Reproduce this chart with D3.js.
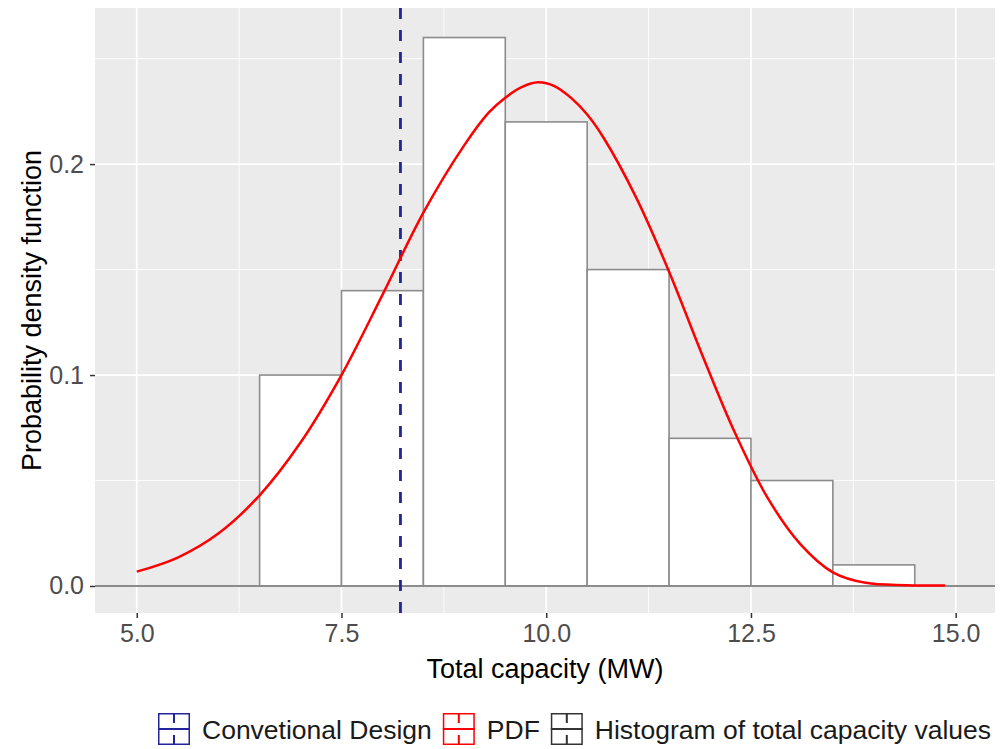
<!DOCTYPE html>
<html>
<head>
<meta charset="utf-8">
<script src="https://cdn.jsdelivr.net/npm/d3@7"></script>
<style>
  body { margin: 0; background: #fff; }
  text { font-family: 'Liberation Sans', Arial, sans-serif; }
</style>
</head>
<body>
<svg id="chart"></svg>
<script>
// histogram bins (left edge, right edge, density)
const binLo = [6.5, 7.5, 8.5, 9.5, 10.5, 11.5, 12.5, 13.5]
const binHi = [7.5, 8.5, 9.5, 10.5, 11.5, 12.5, 13.5, 14.5]
const binDensity = [0.10, 0.14, 0.26, 0.22, 0.15, 0.07, 0.05, 0.01]

// pdf curve
const pdfX = [5.0, 5.5, 6.0, 6.5, 7.0, 7.5, 8.0, 8.5, 9.0, 9.3, 9.5, 9.7, 9.9, 10.1, 10.3, 10.5, 10.7, 11.1, 11.5, 11.9, 12.3, 12.7, 13.1, 13.5, 13.9, 14.4, 14.87]
const pdfY = [0.0068, 0.0135, 0.025, 0.043, 0.068, 0.100, 0.138, 0.177, 0.209, 0.2245, 0.2315, 0.2365, 0.2388, 0.237, 0.2315, 0.2235, 0.2125, 0.184, 0.149, 0.110, 0.073, 0.042, 0.020, 0.0065, 0.0015, 0.0004, 0.0002]

const designValue = [8.22]

const xTicks = [5, 7.5, 10, 12.5, 15]
const xMinor = [6.25, 8.75, 11.25, 13.75]
const yTicks = [0, 0.1, 0.2]
const yMinor = [0.05, 0.15, 0.25]

const legendLabels = ['Convetional Design', 'PDF', 'Histogram of total capacity values']
const legendColors = ['#23239a', '#ff0000', '#333333']

const W = 1003, H = 749
const panel = { left: 95, right: 995, top: 8, bottom: 613 }

const svg = d3.select('#chart').attr('width', W).attr('height', H)

const x = d3.scaleLinear().domain([4.49, 15.48]).range([panel.left, panel.right])
const y = d3.scaleLinear().domain([-0.0128, 0.274]).range([panel.bottom, panel.top])

/// panel background + grid ////////////////
svg.append('rect')
  .attr('x', panel.left).attr('y', panel.top)
  .attr('width', panel.right - panel.left).attr('height', panel.bottom - panel.top)
  .attr('fill', '#ebebeb')

const grid = svg.append('g')
grid.selectAll('.xminor').data(xMinor).join('line')
  .attr('x1', d => x(d)).attr('x2', d => x(d))
  .attr('y1', panel.top).attr('y2', panel.bottom)
  .attr('stroke', '#fff').attr('stroke-width', 0.9)
grid.selectAll('.yminor').data(yMinor).join('line')
  .attr('y1', d => y(d)).attr('y2', d => y(d))
  .attr('x1', panel.left).attr('x2', panel.right)
  .attr('stroke', '#fff').attr('stroke-width', 0.9)
grid.selectAll('.xmajor').data(xTicks).join('line')
  .attr('x1', d => x(d)).attr('x2', d => x(d))
  .attr('y1', panel.top).attr('y2', panel.bottom)
  .attr('stroke', '#fff').attr('stroke-width', 1.8)
grid.selectAll('.ymajor').data(yTicks).join('line')
  .attr('y1', d => y(d)).attr('y2', d => y(d))
  .attr('x1', panel.left).attr('x2', panel.right)
  .attr('stroke', '#fff').attr('stroke-width', 1.8)

/// histogram ////////////////
svg.append('g').selectAll('rect')
  .data(binDensity)
  .join('rect')
  .attr('x', (d, i) => x(binLo[i]))
  .attr('width', (d, i) => x(binHi[i]) - x(binLo[i]))
  .attr('y', d => y(d))
  .attr('height', d => y(0) - y(d))
  .attr('fill', '#fff')
  .attr('stroke', '#8c8c8c')
  .attr('stroke-width', 1.6)

// baseline at zero
svg.append('line')
  .attr('x1', panel.left).attr('x2', panel.right)
  .attr('y1', y(0)).attr('y2', y(0))
  .attr('stroke', '#8c8c8c').attr('stroke-width', 2)

/// design line ////////////////
svg.selectAll('.vline').data(designValue).join('line')
  .attr('x1', d => x(d)).attr('x2', d => x(d))
  .attr('y1', panel.top).attr('y2', panel.bottom)
  .attr('stroke', legendColors[0])
  .attr('stroke-width', 2.8)
  .attr('stroke-dasharray', '11,11')

/// pdf ////////////////
const pdfData = pdfX.map((v, i) => ({ x: v, y: pdfY[i] }))
svg.append('path')
  .datum(pdfData)
  .attr('d', d3.line().x(d => x(d.x)).y(d => y(d.y)).curve(d3.curveCatmullRom.alpha(0.5)))
  .attr('fill', 'none')
  .attr('stroke', '#ff0000')
  .attr('stroke-width', 2.5)

/// axes ////////////////
const xAxis = svg.append('g')
  .attr('transform', `translate(0,${panel.bottom})`)
  .call(d3.axisBottom(x).tickValues(xTicks).tickFormat(d3.format('.1f')).tickSize(5).tickPadding(6))
xAxis.select('.domain').remove()
xAxis.selectAll('line').attr('stroke', '#333').attr('stroke-width', 1.5)
xAxis.selectAll('text').attr('fill', '#4d4d4d').attr('font-size', 25)
  .attr('font-family', "'Liberation Sans', Arial, sans-serif")

const yAxis = svg.append('g')
  .attr('transform', `translate(${panel.left},0)`)
  .call(d3.axisLeft(y).tickValues(yTicks).tickFormat(d3.format('.1f')).tickSize(5).tickPadding(6))
yAxis.select('.domain').remove()
yAxis.selectAll('line').attr('stroke', '#333').attr('stroke-width', 1.5)
yAxis.selectAll('text').attr('fill', '#4d4d4d').attr('font-size', 25)
  .attr('font-family', "'Liberation Sans', Arial, sans-serif")

svg.append('text')
  .attr('x', (panel.left + panel.right) / 2)
  .attr('y', 678)
  .attr('text-anchor', 'middle')
  .attr('font-size', 27)
  .attr('fill', '#000')
  .text('Total capacity (MW)')

svg.append('text')
  .attr('transform', `translate(41,${(panel.top + panel.bottom) / 2}) rotate(-90)`)
  .attr('text-anchor', 'middle')
  .attr('font-size', 27)
  .attr('fill', '#000')
  .text('Probability density function')

/// legend ////////////////
const legend = svg.append('g')
let lx = 158
const keySize = 32, ky = 713
legendLabels.forEach((label, i) => {
  const g = legend.append('g').attr('transform', `translate(${lx},${ky})`)
  const c = legendColors[i]
  g.append('rect').attr('x', 0.75).attr('y', 0.75)
    .attr('width', keySize - 1.5).attr('height', keySize - 1.5)
    .attr('fill', '#fff').attr('stroke', c).attr('stroke-width', 1.5)
  g.append('line').attr('x1', 0).attr('x2', keySize)
    .attr('y1', keySize / 2).attr('y2', keySize / 2)
    .attr('stroke', c).attr('stroke-width', 2)
  g.append('line').attr('x1', keySize / 2).attr('x2', keySize / 2)
    .attr('y1', 0).attr('y2', keySize)
    .attr('stroke', c).attr('stroke-width', 2)
    .attr('stroke-dasharray', '10,12')
  const t = legend.append('text')
    .attr('x', lx + keySize + 12)
    .attr('y', ky + 26)
    .attr('font-size', 26.5)
    .attr('fill', '#1a1a1a')
    .text(label)
  lx = lx + keySize + 12 + t.node().getComputedTextLength() + 11
})
</script>
</body>
</html>
